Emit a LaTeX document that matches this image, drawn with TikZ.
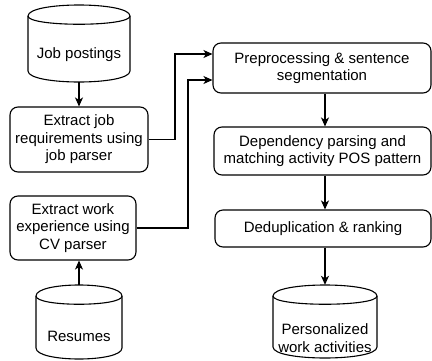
\documentclass[tikz,border=0pt]{standalone}
\usepackage{fontspec}
\setmainfont{Liberation Sans}
\usetikzlibrary{arrows.meta,calc}
\newcommand{\cylpath}[5]{%
  \draw[line width=1.1pt, line join=round] (#1,#2+#5) .. controls (#1,#2-#5/3) and (#3,#2-#5/3) .. (#3,#2+#5)
    -- (#3,#4-#5) .. controls (#3,#4+#5/3) and (#1,#4+#5/3) .. (#1,#4-#5) -- cycle;
  \draw[line width=1.1pt] (#1,#2+#5) .. controls (#1,#2+2*#5) and (#3,#2+2*#5) .. (#3,#2+#5);
}
\begin{document}
\begin{tikzpicture}[x=1pt,y=-1pt,
  txt/.style={align=center, font=\fontsize{15}{17.5}\selectfont, inner sep=0pt},
  box/.style={txt, draw, line width=1.1pt, rounded corners=8pt},
  frame/.style={inner sep=0pt, minimum width=#1},
  arr/.style={line width=1.1pt, -{Stealth[length=9pt,width=8pt,inset=2.5pt]}}]
\useasboundingbox (0,0) rectangle (432,360);

% cylinders (shapes)
\cylpath{28}{5}{130}{82}{11}
\cylpath{36}{285}{122}{359}{11}
\cylpath{273}{285}{377}{358}{11}
\node[inner sep=0pt, minimum width=102pt, minimum height=77pt] (jp) at (79,43.5) {};
\node[txt] (jpt) at (79,55) {Job postings};
\node[inner sep=0pt, minimum width=86pt, minimum height=74pt] (res) at (79,322) {};
\node[txt] (rest) at (79,336) {Resumes};
\node[inner sep=0pt, minimum width=104pt, minimum height=73pt] (pers) at (325,321.5) {};
\node[txt] (perst) at (325,338) {Personalized\\work activities};

% boxes
\node[box, minimum width=138pt, minimum height=65pt] (jr) at (79,139.5) {Extract job\\requirements using\\job parser};
\node[box, minimum width=126pt, minimum height=64pt] (we) at (73,228) {Extract work\\experience using\\CV parser};
\node[box, minimum width=218pt, minimum height=50pt] (pp) at (322,68) {Preprocessing \& sentence\\segmentation};
\node[box, minimum width=217pt, minimum height=48pt] (dp) at (322.5,151) {Dependency parsing and\\matching activity POS pattern};
\node[box, minimum width=216pt, minimum height=37pt] (dd) at (323,228.5) {Deduplication \& ranking};

% connectors
\coordinate (c1) at (175,54);
\coordinate (c2) at (188,80);
\draw[arr] (jp.south) -- (jr.north);
\draw[arr] (res.north) -- (res.north |- we.south);
\draw[arr] (jr.east) -| (c1) -- (c1 -| pp.west);
\draw[arr] (we.east) -| (c2) -- (c2 -| pp.west);
\draw[arr] (pp.south -| pers.north) -- (dp.north -| pers.north);
\draw[arr] (dp.south -| pers.north) -- (dd.north -| pers.north);
\draw[arr] (dd.south -| pers.north) -- (pers.north);
\end{tikzpicture}
\end{document}
